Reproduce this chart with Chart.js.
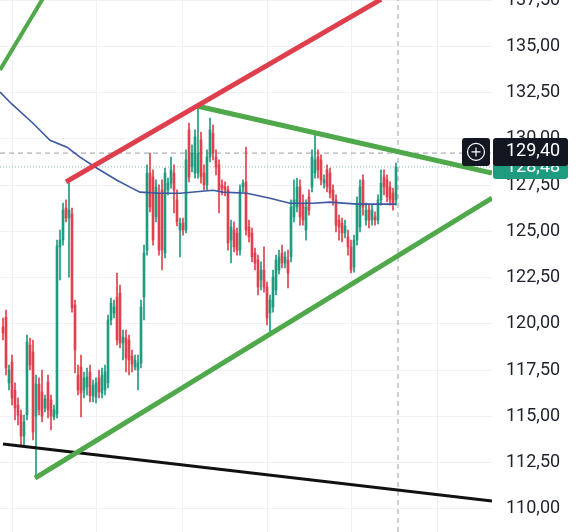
<!DOCTYPE html>
<html><head><meta charset="utf-8">
<script src="https://cdn.jsdelivr.net/npm/chart.js@4.4.1/dist/chart.umd.min.js"></script>
<style>html,body{margin:0;padding:0;background:#fff;overflow:hidden}canvas{display:block}</style>
</head><body>
<canvas id="c" width="578" height="532"></canvas>
<script>
// ---- data (candle index = position in arrays) ----
const opens = [119.83,120.37,116.81,117.94,116.43,115.62,115.08,113.94,115.08,118.86,118.48,115.02,116.75,116.32,115.46,116.86,115.89,114.97,115.13,124.16,124.53,126.26,125.72,125.94,121.02,117.24,117.67,116.43,116.59,117.40,116.11,116.05,117.08,116.27,116.43,116.81,120.21,120.59,121.45,121.67,118.97,119.24,119.13,118.27,117.67,117.51,117.89,121.45,123.99,128.15,127.94,125.78,127.07,127.24,123.83,127.24,127.61,128.15,126.70,125.07,125.45,125.07,130.48,128.48,128.15,128.15,129.94,128.15,127.51,129.02,130.31,129.02,128.59,127.51,127.40,127.24,124.53,125.07,124.91,123.99,127.40,127.67,125.24,124.91,123.83,123.45,122.37,122.91,121.99,120.59,120.91,121.83,122.91,123.83,123.29,123.45,123.62,125.78,126.32,127.40,126.53,125.07,126.86,127.40,128.15,129.02,128.86,127.61,128.32,128.15,127.24,126.70,125.61,125.45,124.91,124.70,124.16,123.07,124.53,125.24,127.78,125.61,126.15,125.61,125.78,125.61,126.70,127.94,127.78,127.40,127.07,126.70];
const highs = [120.32,120.75,117.78,118.32,116.81,116.00,115.35,115.08,119.40,119.24,119.13,117.24,117.08,117.51,116.16,117.24,116.16,115.62,124.53,125.07,126.53,126.70,127.61,126.26,121.29,117.78,118.32,117.40,117.62,117.78,116.97,117.08,117.51,117.62,117.78,120.48,121.40,121.29,122.75,122.10,119.67,119.67,119.40,118.59,118.32,118.32,121.29,124.26,128.59,129.23,128.32,127.78,127.51,127.78,128.42,127.88,129.02,128.59,127.24,125.72,125.72,129.40,130.85,129.67,130.48,131.72,130.37,128.59,129.40,131.12,130.75,129.40,128.86,127.78,127.67,127.45,125.61,125.51,125.18,127.51,127.78,129.56,125.61,125.18,124.10,123.72,123.35,124.16,122.26,121.56,122.91,123.72,123.99,124.26,123.89,123.99,126.70,127.78,127.88,127.78,126.97,126.70,127.24,129.40,130.31,129.40,129.13,128.05,128.59,128.42,127.51,126.97,125.88,125.72,125.61,125.07,124.53,124.80,126.86,127.78,128.05,126.53,126.42,126.42,126.05,126.97,128.32,128.32,128.05,127.67,127.34,128.69];
const lows = [119.13,117.24,116.43,115.62,114.81,114.54,113.46,113.46,114.81,117.51,113.73,111.67,115.08,114.70,115.24,114.92,114.27,114.81,114.92,122.37,124.26,125.51,122.53,120.64,117.35,116.16,114.97,116.00,116.16,115.78,115.78,115.73,116.00,116.00,116.16,116.54,119.94,120.32,118.86,118.70,118.05,117.40,117.24,117.40,117.51,116.43,117.62,120.21,123.72,126.05,124.26,125.51,123.72,122.91,123.56,126.97,127.34,125.99,125.29,123.62,124.80,124.91,127.67,128.21,127.88,127.88,127.61,127.24,127.24,128.75,128.86,128.05,125.99,126.97,126.91,123.99,123.29,123.89,123.72,123.72,127.13,124.80,124.43,123.35,122.91,121.56,121.83,121.72,119.94,119.51,120.64,121.56,122.70,123.02,123.02,121.94,123.35,125.51,126.05,125.34,125.34,124.53,125.88,127.13,127.88,127.88,127.51,127.34,127.13,126.80,126.42,124.97,124.53,124.43,124.64,123.72,122.75,122.80,124.26,124.97,125.88,125.34,125.18,125.34,125.34,125.40,126.42,126.97,126.59,126.42,126.15,126.42];
const closes = [119.51,117.62,117.51,116.00,115.46,115.08,113.94,114.70,119.02,117.78,114.16,116.75,115.35,115.02,115.94,115.35,115.02,115.35,124.21,124.53,126.15,125.72,126.15,120.86,118.59,116.43,116.27,117.08,117.13,116.11,116.70,116.81,116.32,117.24,117.40,120.21,121.13,120.91,119.13,118.97,119.29,118.16,118.05,117.83,118.05,117.89,120.91,123.83,128.15,126.32,124.53,127.40,123.99,123.99,128.15,127.61,128.32,127.24,125.51,125.45,125.07,128.86,127.94,129.23,130.10,129.23,127.94,127.51,129.02,130.48,129.23,128.48,127.24,127.34,127.24,124.37,125.24,124.16,123.99,127.24,127.61,125.07,124.70,123.62,123.29,121.99,122.91,121.99,120.32,121.29,122.53,123.45,123.62,123.29,123.62,122.75,126.32,126.70,127.40,125.78,125.61,126.32,126.15,129.02,128.86,128.32,127.78,127.78,127.40,127.07,126.70,125.34,125.24,124.91,125.29,124.16,122.91,124.53,126.53,127.40,126.32,126.15,125.61,126.15,125.61,126.70,127.61,127.40,126.86,126.70,126.53,128.48];

// moving average (blue)
const maIdx = [-1,3,10,15.67,21.33,25.67,31.33,38,42.33,45.67,52.33,59,70,73.33,81.33,89,95.67,103.33,109,118,131];
const maVal = [132.53,131.87,130.84,129.92,129.55,129.01,128.41,127.76,127.39,127.12,127.06,127.06,127.22,127.12,127.06,126.79,126.52,126.52,126.58,126.47,126.47];

// trend lines (endpoints: candle index, price)
const redLineX = [21,126];          const redLineY = [127.67,137.53];
const greenSteepX = [-1,14];        const greenSteepY = [133.72,137.77];
const greenUpperX = [64.67,163];    const greenUpperY = [131.77,128.15];
const greenLowerX = [10.67,163];    const greenLowerY = [111.67,126.80];
const blackLineX = [0,163];         const blackLineY = [113.51,110.43];

// axis
const yTicks = [110,112.5,115,117.5,120,122.5,125,127.5,130,132.5,135,137.5];
const xGrid = [3,31.33,59.67,88,116.33,144.67];
const crossPrice = 129.40;   // crosshair label
const crossLineY = 129.23;   // crosshair horizontal line
const crossIdx = 131.67;     // crosshair vertical line
const lastClose = closes[closes.length-1];

// ---- styles ----
const UP = '#1f9b80', DOWN = '#e2404e';
const X_MIN = -1, X_MAX = 163, Y_MIN = 108.757, Y_MAX = 137.5;
const fmt = v => v.toFixed(2).replace('.', ',');
const isUp = i => closes[i] >= opens[i];

const seg = (xs, ys) => xs.map((x,i)=>({x, y: ys[i]}));

function rr(ctx,x,y,w,h,r){ctx.beginPath();ctx.moveTo(x+r,y);ctx.lineTo(x+w-r,y);ctx.quadraticCurveTo(x+w,y,x+w,y+r);ctx.lineTo(x+w,y+h-r);ctx.quadraticCurveTo(x+w,y+h,x+w-r,y+h);ctx.lineTo(x+r,y+h);ctx.quadraticCurveTo(x,y+h,x,y+h-r);ctx.lineTo(x,y+r);ctx.quadraticCurveTo(x,y,x+r,y);ctx.closePath();}

const labelPlugin = {
  id: 'priceLabels',
  afterDraw(chart){
    const {ctx, chartArea, scales:{y}} = chart;
    const R = chartArea.right;
    ctx.save();
    ctx.font = '18px Roboto';
    ctx.textBaseline = 'middle';
    ctx.textAlign = 'left';
    // last price (green) label
    const yl = y.getPixelForValue(lastClose);
    ctx.fillStyle = UP;
    rr(ctx, R+1, yl-12, 75, 24, 3); ctx.fill();
    ctx.fillStyle = '#fff';
    ctx.fillText(fmt(lastClose), R+14, yl+1);
    // crosshair label
    const yc = y.getPixelForValue(crossPrice) + 2;
    ctx.fillStyle = '#131722';
    rr(ctx, R-30, yc-14, 28, 28, 3); ctx.fill();
    rr(ctx, R+1, yc-14, 75, 28, 3); ctx.fill();
    ctx.fillStyle = '#fff';
    ctx.fillText(fmt(crossPrice), R+14, yc);
    // plus-circle icon
    const cx = R-16;
    ctx.strokeStyle = '#fff'; ctx.lineWidth = 1.2;
    ctx.beginPath(); ctx.arc(cx, yc, 8.5, 0, Math.PI*2); ctx.stroke();
    ctx.beginPath(); ctx.moveTo(cx-4.5, yc); ctx.lineTo(cx+4.5, yc); ctx.moveTo(cx, yc-4.5); ctx.lineTo(cx, yc+4.5); ctx.stroke();
    ctx.restore();
  }
};

const lineDs = (data, color, width, order, dash) => ({
  type:'line', data, borderColor: color, borderWidth: width, pointRadius: 0,
  fill:false, tension:0, order, borderDash: dash || [], borderCapStyle: 'butt'
});

new Chart(document.getElementById('c'), {
  type: 'bar',
  data: {
    datasets: [
      lineDs(seg(redLineX, redLineY), '#df3e4c', 5, 0),
      lineDs(seg(greenSteepX, greenSteepY), '#4fa84a', 4, 0),
      lineDs(seg(greenUpperX, greenUpperY), '#4fa84a', 5, 0),
      lineDs(seg(greenLowerX, greenLowerY), '#4fa84a', 5, 0),
      lineDs(seg(blackLineX, blackLineY), '#111111', 3, 0),
      lineDs(seg(maIdx, maVal), '#3b58a0', 1.6, 1),
      lineDs(seg([X_MIN, X_MAX], [crossLineY, crossLineY]), '#9a9ea8', 1, 5, [5,4]),
      lineDs(seg([crossIdx, crossIdx], [Y_MIN, Y_MAX]), '#9a9ea8', 1, 5, [5,4]),
      lineDs(seg([X_MIN, X_MAX], [lastClose, lastClose]), '#7fb5a8', 1, 5, [1,2]),
      {
        type:'bar', order: 3, grouped:false, barThickness: 2,
        data: opens.map((o,i)=>({x:i, y:[o, closes[i]]})),
        backgroundColor: c => isUp(c.dataIndex) ? UP : DOWN
      },
      {
        type:'bar', order: 4, grouped:false, barThickness: 1,
        data: opens.map((o,i)=>({x:i, y:[lows[i], highs[i]]})),
        backgroundColor: c => isUp(c.dataIndex) ? UP : DOWN
      }
    ]
  },
  options: {
    responsive:false, animation:false, events:[],
    layout:{padding:0},
    plugins:{legend:{display:false}, tooltip:{enabled:false}},
    scales:{
      x:{
        type:'linear', min:X_MIN, max:X_MAX, offset:false, position:'bottom',
        afterBuildTicks: s => { s.ticks = xGrid.map(v=>({value:v})); },
        afterFit: s => { s.height = 0; s.paddingLeft = 0; s.paddingRight = 0; },
        grid:{color:'#eff1f4', drawTicks:false, offset:false},
        border:{display:false},
        ticks:{display:false}
      },
      y:{
        type:'linear', position:'right', min:Y_MIN, max:Y_MAX, beginAtZero:false,
        afterBuildTicks: s => { s.ticks = yTicks.map(v=>({value:v})); },
        afterFit: s => { s.width = 86; s.paddingTop = 0; s.paddingBottom = 0; },
        grid:{color:'#eff1f4', drawTicks:false},
        border:{display:false},
        ticks:{padding:14, color:'#1e222d', font:{family:'Roboto', size:18}, callback: v => fmt(v)}
      }
    }
  },
  plugins:[labelPlugin]
});
</script>
</body></html>
